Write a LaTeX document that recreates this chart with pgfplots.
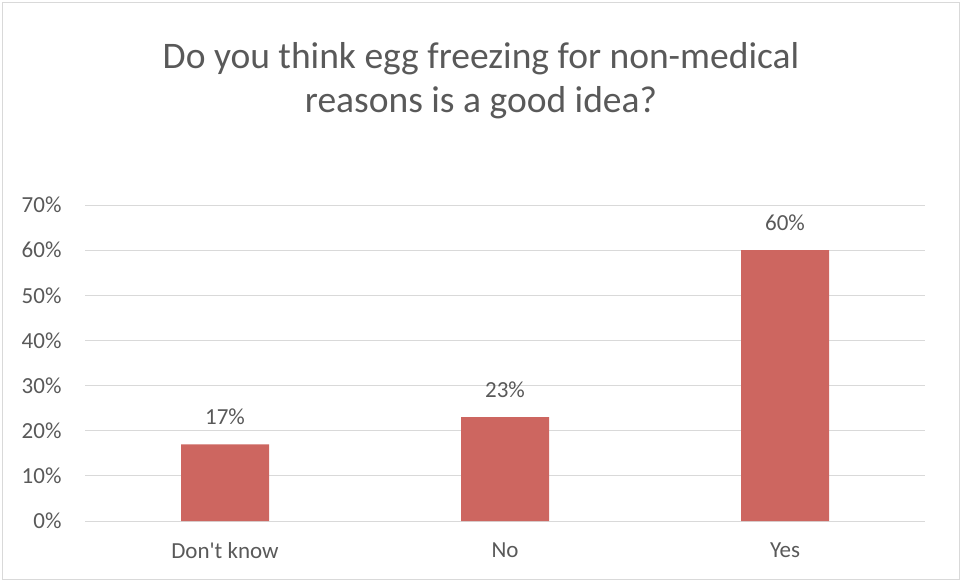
\documentclass[border=0pt]{standalone}
\usepackage{fontspec}
\setmainfont{Carlito}
\usepackage{pgfplots}
\pgfplotsset{compat=1.18}
\definecolor{barred}{HTML}{CD6660}
\definecolor{txtgray}{HTML}{595959}
\definecolor{gridgray}{HTML}{D9D9D9}
\begin{document}
\begin{tikzpicture}
\useasboundingbox (0pt,0pt) rectangle (961pt,581pt);
\draw[gridgray, line width=1pt] (2pt,2pt) rectangle (959pt,578pt);
\node[text=txtgray, align=center, font=\fontsize{37.5}{44}\selectfont] at (481pt,500pt)
  {Do you think egg freezing for non-medical\\reasons is a good idea?};
\begin{axis}[
    at={(85pt,60pt)}, anchor=south west,
    scale only axis,
    width=840pt, height=316pt,
    ybar, bar width=88pt,
    xmin=-0.5, xmax=2.5,
    ymin=0, ymax=70,
    ytick={0,10,...,70},
    xtick=data,
    xticklabels={Don\textquotesingle t know,No,Yes},
    yticklabel={\pgfmathprintnumber{\tick}\%},
    ymajorgrids,
    grid style={gridgray, line width=1pt},
    axis line style={draw=none},
    major tick length=0pt,
    tick label style={text=txtgray, font=\fontsize{23}{27}\selectfont},
    /pgf/number format/assume math mode=true,
    yticklabel style={xshift=-20pt},
    xticklabel style={yshift=-18pt},
    nodes near coords={\pgfmathprintnumber{\pgfplotspointmeta}\%},
    every node near coord/.append style={text=txtgray, font=\fontsize{23}{27}\selectfont, yshift=16pt},
]
\addplot[fill=barred, draw=none] coordinates {(0,17) (1,23) (2,60)};
\end{axis}
\end{tikzpicture}
\end{document}
